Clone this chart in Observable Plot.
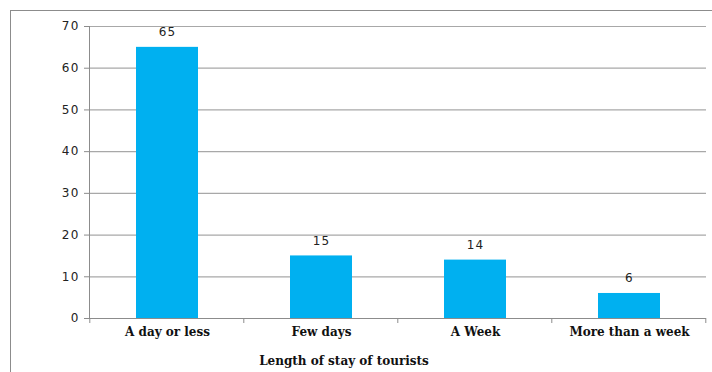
<!DOCTYPE html>
<html><head><meta charset="utf-8">
<script src="https://cdn.jsdelivr.net/npm/d3@7"></script>
<script src="https://cdn.jsdelivr.net/npm/@observablehq/plot@0.6"></script>
<style>
html,body{margin:0;padding:0;background:#fff;overflow:hidden;}
#wrap{position:relative;width:712px;height:372px;overflow:hidden;}
#wrap svg{position:absolute;left:0;top:0;}
#frame{position:absolute;left:10px;top:10px;width:800px;height:500px;border:1px solid #8c8c8c;pointer-events:none;}
.num text{letter-spacing:1.2px;}
</style></head><body><div id="wrap"><div id="frame"></div></div>
<script>
const categories = ["A day or less", "Few days", "A Week", "More than a week"];
const values = [65, 15, 14, 6];
const yTicks = [0, 10, 20, 30, 40, 50, 60, 70];
const xTitle = "Length of stay of tourists";

const data = categories.map((c, i) => ({category: c, value: values[i]}));

// category boundary tick marks below the x axis, from the band scale
function boundaryTicks(index, scales, vals, dims) {
  const x = scales.x, y = scales.y;
  const step = x(categories[1]) - x(categories[0]);
  const off = step * 0.3;
  const xs = categories.map(c => x(c) - off);
  xs.push(x(categories[categories.length - 1]) + step * 0.4 + off);
  const y0 = y(0);
  const g = d3.create("svg:g").attr("stroke", "#8c8c8c").attr("stroke-width", 1);
  xs.forEach(px => g.append("line").attr("x1", px).attr("x2", px).attr("y1", y0).attr("y2", y0 + 5));
  return g.node();
}

const serifFont = "'DejaVu Serif', serif";

const chart = Plot.plot({
  width: 712,
  height: 372,
  marginLeft: 89,
  marginRight: 6,
  marginTop: 26,
  marginBottom: 54,
  style: {fontFamily: "DejaVu Sans", fontSize: "12px", color: "#333", background: "transparent", overflow: "visible"},
  x: {domain: categories, paddingInner: 0.6, paddingOuter: 0.3, label: null},
  y: {domain: [0, 70], label: null},
  marks: [
    Plot.gridY(yTicks.filter(v => v > 0), {stroke: "#a8a8a8", strokeOpacity: 1, strokeWidth: 1.2}),
    Plot.barY(data, {x: "category", y: "value", fill: "#00b0f0"}),
    Plot.ruleY([0], {stroke: "#8c8c8c"}),
    Plot.frame({anchor: "left", stroke: "#8c8c8c"}),
    Plot.axisY({ticks: yTicks, tickSize: 5, tickPadding: 5, stroke: "#8c8c8c", fill: "#222", fontSize: 12, label: null, className: "num"}),
    Plot.axisX({tickSize: 0, tickPadding: 9, fontFamily: serifFont, fontWeight: "bold", fontSize: 12, fill: "#111", label: null}),
    Plot.text(data, {x: "category", y: "value", text: d => String(d.value), dy: -15, fontSize: 12, fill: "#222", className: "num"}),
    Plot.text([xTitle], {frameAnchor: "bottom", dy: 46, dx: -54, fontFamily: serifFont, fontWeight: "bold", fontSize: 12, fill: "#111"}),
    boundaryTicks
  ]
});
document.getElementById("wrap").insertBefore(chart, document.getElementById("frame"));
</script></body></html>
